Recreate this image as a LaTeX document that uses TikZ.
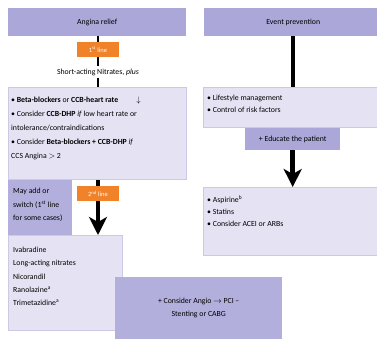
\documentclass[tikz,border=0pt]{standalone}
\usepackage{fontspec}
\setmainfont{Carlito}
\usetikzlibrary{arrows.meta}
\definecolor{hdr}{HTML}{ABA7D8}
\definecolor{mid}{HTML}{B3AFDD}
\definecolor{lite}{HTML}{E5E3F3}
\definecolor{edgec}{HTML}{CCC9E4}
\definecolor{org}{HTML}{F0822A}
\begin{document}
\begin{tikzpicture}[x=1pt,y=-1pt,
  hbox/.style={fill=hdr, draw=none, inner sep=0pt, anchor=north west, font=\fontsize{7.8}{9}\selectfont},
  mbox/.style={fill=mid, draw=none, inner sep=0pt, anchor=north west},
  lbox/.style={fill=lite, draw=edgec, line width=0.8pt, inner sep=0pt, anchor=north west},
  obox/.style={fill=org, text=white, font=\fontsize{6.5}{7}\selectfont, inner sep=0pt, minimum width=42pt, minimum height=15pt, anchor=north},
  txt/.style={align=left, anchor=north west, inner sep=0pt},
  thinline/.style={line width=2pt},
  bigarrow/.style={line width=4.5pt, -{Stealth[length=18pt,width=18pt,inset=5pt]}},
]
\clip (0,0) rectangle (377,340);
\fill[white] (0,0) rectangle (377,340);
% headers
\node[hbox, minimum width=178pt, minimum height=28pt] (hA) at (8,8) {Angina relief};
\node[hbox, minimum width=178pt, minimum height=28pt] (hE) at (204,8) {Event prevention};
% left column
\node[obox] (l1) at (98,42) {1\textsuperscript{st} line};
\node[inner sep=2pt, font=\fontsize{7.8}{9}\selectfont] (sa) at (98,72) {Short-acting Nitrates, \textit{plus}};
\node[lbox, minimum width=178pt, minimum height=92pt] (b1) at (8,87) {};
\node[txt, font=\fontsize{7.8}{14}\selectfont] (b1t) at (11,97) {%
\textbullet\ \textbf{Beta-blockers} or \textbf{CCB-heart rate}\hspace{18pt}$\downarrow$\\
\textbullet\ Consider \textbf{CCB-DHP} \textit{if} low heart rate or\\
intolerance/contraindications\\
\textbullet\ Consider \textbf{Beta-blockers + CCB-DHP} \textit{if}\\
CCS Angina $>$ 2};
\node[mbox, minimum width=64pt, minimum height=55pt] (may) at (8,180) {};
\node[txt, font=\fontsize{7.8}{13.5}\selectfont] (mayt) at (13,188) {May add or\\switch (1\textsuperscript{st} line\\for some cases)};
\node[lbox, minimum width=114pt, minimum height=95pt] (b2) at (8,235) {};
\node[txt, font=\fontsize{7.8}{13.2}\selectfont] (b2t) at (13,247) {Ivabradine\\Long-acting nitrates\\Nicorandil\\Ranolazine\textsuperscript{a}\\Trimetazidine\textsuperscript{a}};
\draw[bigarrow] (b1.south -| l1) -- (b2.north -| l1);
\node[obox] (l2) at (98,186) {2\textsuperscript{nd} line};
\node[mbox, minimum width=167pt, minimum height=62pt, align=center, font=\fontsize{7.8}{13}\selectfont] (cab) at (115,277) {+ Consider Angio $\rightarrow$ PCI --\\Stenting or CABG};
% right column
\node[lbox, minimum width=180pt, minimum height=40pt] (e1) at (203,87) {};
\node[txt, font=\fontsize{7.8}{11.5}\selectfont] (e1t) at (207,95) {\textbullet\ Lifestyle management\\\textbullet\ Control of risk factors};
\node[hbox, minimum width=95pt, minimum height=22pt] (edu) at (245,128) {+ Educate the patient};
\node[lbox, minimum width=180pt, minimum height=68pt] (e2) at (203,187) {};
\node[txt, font=\fontsize{7.8}{12}\selectfont] (e2t) at (207,196) {\textbullet\ Aspirine\textsuperscript{b}\\\textbullet\ Statins\\\textbullet\ Consider ACEI or ARBs};
% connectors
\draw[thinline] (hA.south -| l1) -- (l1.north);
\draw[thinline] (l1.south) -- (sa.north);
\draw[thinline] (sa.south) -- (b1.north -| sa);
\draw[line width=4pt] (edu.north |- hE.south) -- (edu.north |- e1.north);
\draw[bigarrow] (edu.south) -- (e2.north -| edu);
\end{tikzpicture}
\end{document}
